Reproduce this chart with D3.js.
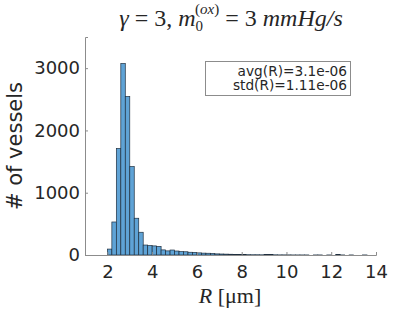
<!DOCTYPE html>
<html>
<head>
<meta charset="utf-8">
<script src="https://cdn.jsdelivr.net/npm/d3@7"></script>
<style>
  body { margin: 0; background: #fff; }
  svg text { fill: #262626; }
</style>
</head>
<body>
<svg id="chart" width="415" height="312"></svg>
<script>
// bin left edges (R in um), bin width 0.2
var binWidth = 0.2;
var binStart = d3.range(60).map(function(i) { return +(2 + i * binWidth).toFixed(1); });
// counts
var counts = [95, 530, 1710, 3075, 2545, 1420, 590, 365, 160, 152,
              146, 138, 82, 66, 80, 64, 54, 52, 44, 42,
              34, 30, 28, 24, 18, 16, 14, 12, 10, 8,
              6, 5, 4, 4, 3, 6, 8, 3, 2, 2,
              2, 1, 1, 1, 1, 0, 1, 1, 0, 1,
              0, 8, 1, 0, 1, 0, 0, 1, 0, 0];
var xTicks = [2, 4, 6, 8, 10, 12, 14];
var yTicks = [0, 1000, 2000, 3000];
var statLines = ["avg(R)=3.1e-06", "std(R)=1.11e-06"];

var svg = d3.select("svg#chart");
var plotL = 85, plotR = 376, plotT = 37, plotB = 255;

var x = d3.scaleLinear().domain([1, 14]).range([plotL, plotR]);
var y = d3.scaleLinear().domain([0, 3500]).range([plotB, plotT]);

// bars
svg.selectAll("rect.bar")
   .data(binStart)
   .enter().append("rect")
   .attr("class", "bar")
   .attr("x", function(d) { return x(d); })
   .attr("y", function(d, i) { return y(counts[i]); })
   .attr("width", function(d) { return x(d + binWidth) - x(d); })
   .attr("height", function(d, i) { return plotB - y(counts[i]); })
   .attr("fill", "#5fa3d6")
   .attr("stroke", "#1f2f3f")
   .attr("stroke-width", 0.7);

// axes
var xAxis = svg.append("g")
   .attr("transform", "translate(0," + plotB + ")")
   .call(d3.axisBottom(x).tickValues(xTicks).tickFormat(d3.format("d")).tickSize(-3).tickPadding(10));
var yAxis = svg.append("g")
   .attr("transform", "translate(" + plotL + ",0)")
   .call(d3.axisLeft(y).tickValues(yTicks).tickFormat(d3.format("d")).tickSize(-3).tickPadding(5));

[xAxis, yAxis].forEach(function(g) {
  g.select(".domain").attr("stroke", "#8c8c8c");
  g.selectAll(".tick line").attr("stroke", "#8c8c8c");
  g.selectAll(".tick text")
   .attr("font-family", "DejaVu Sans")
   .attr("font-size", 18)
   .attr("fill", "#262626");
});

// y label
svg.append("text")
   .attr("transform", "translate(22,146) rotate(-90)")
   .attr("text-anchor", "middle")
   .attr("font-family", "DejaVu Sans")
   .attr("font-size", 21)
   .text("# of vessels");

// x label
var xl = svg.append("text")
   .attr("x", 230)
   .attr("y", 303)
   .attr("text-anchor", "middle")
   .attr("font-family", "Liberation Serif")
   .attr("font-size", 22);
xl.append("tspan").attr("font-style", "italic").text("R");
xl.append("tspan").text(" [μm]");

// title
var title = svg.append("text")
   .attr("x", 231)
   .attr("y", 26)
   .attr("text-anchor", "middle")
   .attr("font-family", "Liberation Serif")
   .attr("font-size", 24);
title.append("tspan").attr("font-style", "italic").text("γ");
title.append("tspan").text(" = 3,  ");
title.append("tspan").attr("font-style", "italic").text("m");
title.append("tspan").attr("font-size", 15).attr("dy", 5).text("0");
title.append("tspan").attr("font-size", 15).attr("dx", -8).attr("dy", -17).text("(");
title.append("tspan").attr("font-size", 15).attr("font-style", "italic").text("ox");
title.append("tspan").attr("font-size", 15).text(")");
title.append("tspan").attr("dy", 12).text(" = 3 ");
title.append("tspan").attr("font-style", "italic").text("mmHg/s");

// stats box
svg.append("rect")
   .attr("x", 205.5)
   .attr("y", 61.5)
   .attr("width", 145)
   .attr("height", 34)
   .attr("fill", "#fff")
   .attr("stroke", "#8c8c8c")
   .attr("stroke-width", 1);

svg.selectAll("text.stat")
   .data(statLines)
   .enter().append("text")
   .attr("class", "stat")
   .attr("x", 347)
   .attr("y", function(d, i) { return 75.5 + i * 14; })
   .attr("text-anchor", "end")
   .attr("font-family", "DejaVu Sans")
   .attr("font-size", 13.7)
   .text(function(d) { return d; });
</script>
</body>
</html>
